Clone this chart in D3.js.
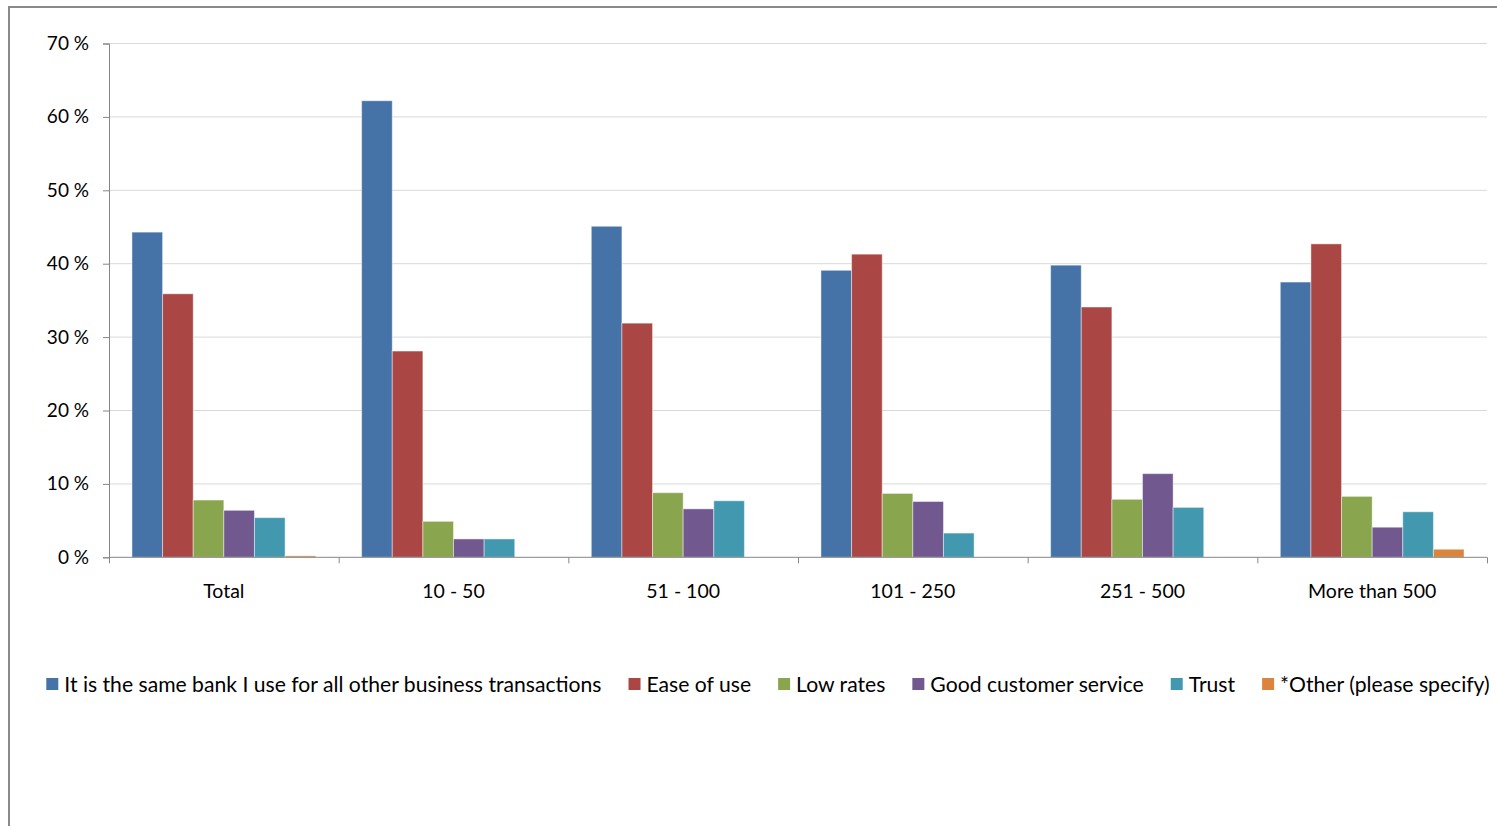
<!DOCTYPE html>
<html>
<head>
<meta charset="utf-8">
<script src="https://cdn.jsdelivr.net/npm/d3@7"></script>
<style>
  html, body { margin: 0; padding: 0; background: #fff; }
  svg { display: block; }
  text { font-family: "Lato", "Open Sans", sans-serif; fill: #000; }
</style>
</head>
<body>
<svg id="chart" width="1497" height="826"></svg>
<script>
const categories = ["Total", "10 - 50", "51 - 100", "101 - 250", "251 - 500", "More than 500"];
const seriesNames = [
  "It is the same bank I use for all other business transactions",
  "Ease of use",
  "Low rates",
  "Good customer service",
  "Trust",
  "*Other (please specify)"
];
const sameBank = [44.3, 62.2, 45.1, 39.1, 39.8, 37.5];
const easeOfUse = [35.9, 28.1, 31.9, 41.3, 34.1, 42.7];
const lowRates = [7.8, 4.9, 8.8, 8.7, 7.9, 8.3];
const goodService = [6.4, 2.5, 6.6, 7.6, 11.4, 4.1];
const trust = [5.4, 2.5, 7.7, 3.3, 6.8, 6.2];
const other = [0.2, 0, 0, 0, 0, 1.1];
const yTicks = [0, 10, 20, 30, 40, 50, 60, 70];
const colors = ["#4572A7", "#AA4643", "#89A54E", "#71588F", "#4198AF", "#DB843D"];

const seriesValues = [sameBank, easeOfUse, lowRates, goodService, trust, other];

const svg = d3.select("#chart");

// outer frame
svg.append("rect")
  .attr("x", 9).attr("y", 7)
  .attr("width", 1520).attr("height", 840)
  .attr("fill", "none").attr("stroke", "#898989").attr("stroke-width", 2);

const plot = { left: 109, right: 1487, top: 43.5, bottom: 557.3 };

const x0 = d3.scaleBand().domain(categories).range([plot.left, plot.right]).paddingInner(0).paddingOuter(0);
const bw = x0.bandwidth();
const gap = bw * 0.2;
const x1 = d3.scaleBand().domain(d3.range(seriesNames.length)).range([gap / 2, bw - gap / 2]).padding(0);
const y = d3.scaleLinear().domain([0, 70]).range([plot.bottom, plot.top]);

// gridlines
svg.append("g")
  .selectAll("line")
  .data(yTicks.filter(d => d > 0))
  .join("line")
  .attr("x1", plot.left).attr("x2", plot.right)
  .attr("y1", d => y(d)).attr("y2", d => y(d))
  .attr("stroke", "#D9D9D9").attr("stroke-width", 1);

// y axis
const yAxis = d3.axisLeft(y).tickValues(yTicks).tickSize(6).tickPadding(14).tickFormat(d => d + " %");
const gy = svg.append("g").attr("transform", `translate(${plot.left},0)`).call(yAxis);
gy.select(".domain").attr("stroke", "#868686");
gy.selectAll(".tick line").attr("stroke", "#868686");
gy.selectAll(".tick text").style("font-size", "19px").attr("fill", "#000");

// bars
const groups = svg.append("g")
  .selectAll("g")
  .data(categories)
  .join("g")
  .attr("transform", d => `translate(${x0(d)},0)`);

groups.selectAll("rect")
  .data((c, ci) => seriesValues.map((arr, si) => ({ si, v: arr[ci] })).filter(d => d.v > 0))
  .join("rect")
  .attr("x", d => x1(d.si))
  .attr("width", x1.bandwidth())
  .attr("y", d => y(d.v))
  .attr("height", d => y(0) - y(d.v))
  .attr("fill", d => colors[d.si])
  .attr("stroke", "rgba(255,255,255,0.45)")
  .attr("stroke-width", 1);

// x axis
const xAxisScale = d3.scaleLinear().domain([0, categories.length]).range([plot.left, plot.right]);
const gx = svg.append("g").attr("transform", `translate(0,${plot.bottom})`)
  .call(d3.axisBottom(xAxisScale).tickValues(d3.range(categories.length + 1)).tickSize(6).tickFormat(""));
gx.select(".domain").attr("stroke", "#868686").attr("d", `M${plot.left},0H${plot.right}`);
gx.selectAll(".tick line").attr("stroke", "#868686");

svg.append("g")
  .selectAll("text")
  .data(categories)
  .join("text")
  .attr("x", d => x0(d) + bw / 2)
  .attr("y", 598)
  .attr("text-anchor", "middle")
  .style("font-size", "19.5px")
  .text(d => d);

// legend
const legendLeft = 46, legendRight = 1490, legendY = 683;
const sq = 12, sqGap = 6, itemGap = 27;
const legend = svg.append("g");
let fontSize = 20;
const items = legend.selectAll("g").data(seriesNames).join("g");
items.append("rect").attr("width", sq).attr("height", sq).attr("fill", (d, i) => colors[i]);
const texts = items.append("text").style("font-size", fontSize + "px").attr("dominant-baseline", "central").text(d => d);
function widths() { return texts.nodes().map(n => n.getComputedTextLength()); }
const fixedW = seriesNames.length * (sq + sqGap) + (seriesNames.length - 1) * itemGap;
let w = widths();
fontSize = fontSize * (legendRight - legendLeft - fixedW) / d3.sum(w);
texts.style("font-size", fontSize + "px");
w = widths();
const total = d3.sum(w) + fixedW;
let cx = (legendLeft + legendRight) / 2 - total / 2;
items.each(function(d, i) {
  const g = d3.select(this);
  g.attr("transform", `translate(${cx},${legendY})`);
  g.select("rect").attr("y", -sq / 2 + 1);
  g.select("text").attr("x", sq + sqGap).attr("y", 1);
  cx += sq + sqGap + w[i] + itemGap;
});
</script>
</body>
</html>
